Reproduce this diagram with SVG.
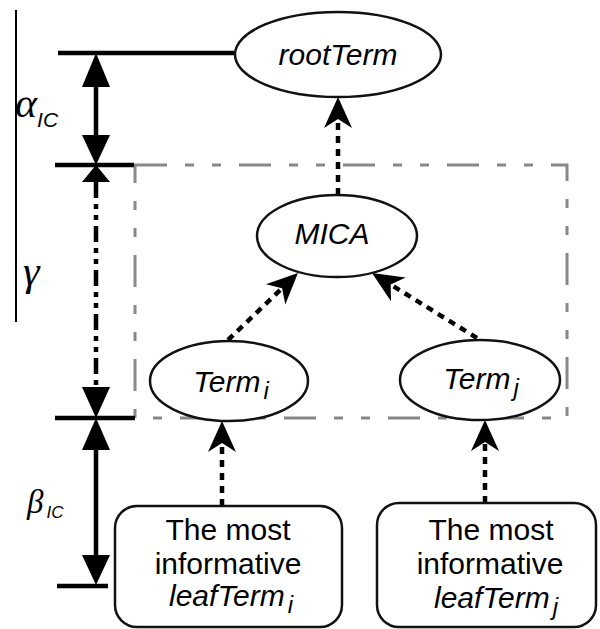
<svg xmlns="http://www.w3.org/2000/svg" width="600" height="629" viewBox="0 0 600 629">
<style>
.node{fill:#fff;stroke:#111;stroke-width:2.5}
.lbl{font-family:"Liberation Sans",Arial,sans-serif;font-size:30px;fill:#000;text-anchor:middle}
.it{font-style:italic}
.conn{fill:none;stroke:#000;stroke-width:4.5;stroke-dasharray:7 6}
.dim{fill:none;stroke:#000;stroke-width:4.5}
.tri{fill:#000}
.greek{font-family:"Liberation Serif","Times New Roman",serif;font-style:italic;fill:#000}
.sub{font-family:"Liberation Sans",Arial,sans-serif;font-style:italic;fill:#000}
</style>
<defs>
<marker id="barb" viewBox="-34 -16 36 32" markerWidth="36" markerHeight="32" refX="-22" refY="0" orient="auto" markerUnits="userSpaceOnUse">
<path d="M0,0 L-31,-14 L-22,0 L-31,14 Z" fill="#000"/>
</marker>
</defs>
<rect width="600" height="629" fill="#fff"/>
<g id="frame">
<line x1="16" y1="10" x2="16" y2="322" stroke="#000" stroke-width="2"/>
<path d="M135,165 H567 V418 H135 Z" fill="none" stroke="#888" stroke-width="3" stroke-dasharray="32 18 9 18 9 18"/>
</g>
<g id="dimensions">
<line class="dim" x1="58" y1="53" x2="234" y2="53"/>
<line class="dim" x1="55" y1="165" x2="134" y2="165"/>
<line class="dim" x1="55" y1="418" x2="135" y2="418"/>
<line class="dim" x1="57" y1="586" x2="108" y2="586"/>
<line class="dim" x1="96" y1="86" x2="96" y2="136"/>
<line class="dim" x1="96" y1="182" x2="96" y2="388" stroke-dasharray="16 6 5 6 5 6"/>
<line class="dim" x1="96" y1="449" x2="96" y2="556"/>
<path class="tri" d="M96,53 L82,87 L110,87 Z"/>
<path class="tri" d="M96,165 L82,135 L110,135 Z"/>
<path class="tri" d="M96,165 L82,182 L110,182 Z"/>
<path class="tri" d="M96,418 L82,387 L110,387 Z"/>
<path class="tri" d="M96,418 L82,450 L110,450 Z"/>
<path class="tri" d="M96,585 L82,555 L110,555 Z"/>
<text class="greek" x="15" y="117" font-size="42">α<tspan class="sub" font-size="21" dy="10">IC</tspan></text>
<text class="greek" x="23" y="285" font-size="42">γ</text>
<text class="greek" x="27" y="513" font-size="33">β<tspan class="sub" font-size="17" dx="3" dy="5">IC</tspan></text>
</g>
<g id="connectors">
<line class="conn" x1="338" y1="195" x2="338" y2="119" marker-end="url(#barb)"/>
<line class="conn" x1="228" y1="340" x2="282.1" y2="288.2" marker-end="url(#barb)"/>
<line class="conn" x1="477" y1="338" x2="390.7" y2="284.6" marker-end="url(#barb)"/>
<line class="conn" x1="222" y1="506" x2="222" y2="443" marker-end="url(#barb)"/>
<line class="conn" x1="485" y1="503" x2="485" y2="442" marker-end="url(#barb)"/>
</g>
<g id="rootTerm">
<ellipse class="node" cx="338" cy="54.5" rx="103" ry="42.5"/>
<text class="lbl it" x="338" y="65" font-size="33">rootTerm</text>
</g>
<g id="MICA">
<ellipse class="node" cx="337" cy="236" rx="80" ry="41"/>
<text class="lbl it" x="332" y="244" font-size="31">MICA</text>
</g>
<g id="Term_i">
<ellipse class="node" cx="229" cy="381" rx="79" ry="40"/>
<text class="lbl it" x="231" y="392" font-size="31">Term<tspan font-size="24" dx="3" dy="7">i</tspan></text>
</g>
<g id="Term_j">
<ellipse class="node" cx="480" cy="380" rx="80" ry="40"/>
<text class="lbl it" x="481" y="389" font-size="31">Term<tspan font-size="24" dx="3" dy="7">j</tspan></text>
</g>
<g id="leafTerm_i">
<rect class="node" x="115" y="506" width="227" height="121" rx="22"/>
<text class="lbl" x="228" y="540" font-size="31">The most</text>
<text class="lbl" x="228" y="574" font-size="31">informative</text>
<text class="lbl it" x="231" y="606" font-size="31">leafTerm<tspan font-size="24" dx="3" dy="7">i</tspan></text>
</g>
<g id="leafTerm_j">
<rect class="node" x="377" y="503" width="219" height="124" rx="22"/>
<text class="lbl" x="491" y="540" font-size="31">The most</text>
<text class="lbl" x="490" y="574" font-size="31">informative</text>
<text class="lbl it" x="496" y="608" font-size="31">leafTerm<tspan font-size="24" dx="3" dy="7">j</tspan></text>
</g>
</svg>
